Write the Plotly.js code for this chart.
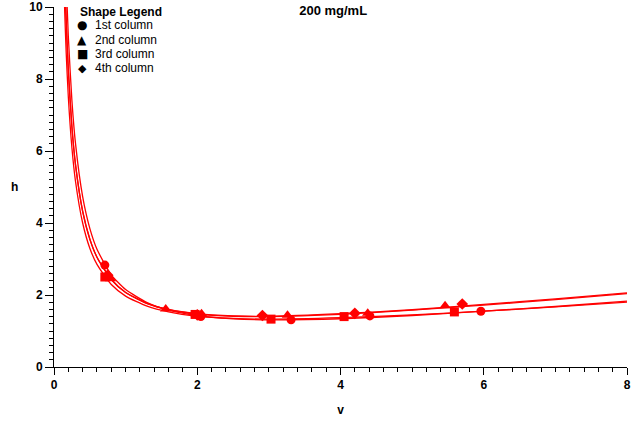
<!DOCTYPE html>
<html>
<head>
<meta charset="utf-8">
<script src="https://cdn.plot.ly/plotly-3.0.1.min.js"></script>
<style>
  html, body { margin: 0; padding: 0; background: #fff; }
  #chart { width: 637px; height: 430px; }
</style>
</head>
<body>
<div id="chart"></div>
<script>
// Plate height h against reduced velocity v, 200 mg/mL, four columns.

// Measured points per column
const col1V = [0.71, 2.05, 3.31, 4.41, 5.96];
const col1H = [2.83, 1.40, 1.31, 1.42, 1.55];
const col2V = [0.79, 1.56, 2.06, 3.26, 4.38, 5.46];
const col2H = [2.45, 1.61, 1.48, 1.44, 1.49, 1.70];
const col3V = [0.71, 1.97, 3.03, 4.05, 5.59];
const col3H = [2.50, 1.46, 1.33, 1.40, 1.53];
const col4V = [0.75, 2.00, 2.91, 4.20, 5.70];
const col4H = [2.55, 1.45, 1.43, 1.49, 1.75];

// Fitted curves, sampled along v
const curveV = [0.13, 0.15, 0.17, 0.2, 0.25, 0.3, 0.4, 0.5, 0.6, 0.8, 1.0, 1.3, 1.6, 2.0, 2.5, 3, 4, 5, 6, 7, 8];
const fit1H = [14.0, 12.16, 10.76, 9.18, 7.40, 6.21, 4.73, 3.85, 3.27, 2.56, 2.15, 1.79, 1.58, 1.43, 1.34, 1.31, 1.34, 1.43, 1.55, 1.68, 1.83];
const fit2H = [12.46, 10.85, 9.61, 8.23, 6.66, 5.62, 4.32, 3.55, 3.05, 2.43, 2.07, 1.77, 1.60, 1.48, 1.42, 1.41, 1.48, 1.59, 1.74, 1.89, 2.06];
const fit3H = [11.30, 9.85, 8.74, 7.50, 6.09, 5.16, 4.00, 3.30, 2.85, 2.29, 1.97, 1.69, 1.53, 1.41, 1.35, 1.33, 1.37, 1.45, 1.55, 1.67, 1.80];
const fit4H = [12.51, 10.89, 9.65, 8.26, 6.68, 5.63, 4.33, 3.56, 3.05, 2.43, 2.07, 1.76, 1.59, 1.47, 1.41, 1.40, 1.46, 1.58, 1.72, 1.87, 2.04];

// Legend entries
const legendTitle = 'Shape Legend';
const legendLabels = ['1st column', '2nd column', '3rd column', '4th column'];
const legendGlyphs = ['\u25CF', '\u25B2', '\u25A0', '\u25C6'];

const RED = '#ff0000';
const FONT = 'Liberation Sans, Arial, Helvetica, sans-serif';

function curve(y) {
  return { x: curveV, y: y, mode: 'lines', type: 'scatter',
           line: { color: RED, width: 1.3, shape: 'spline', smoothing: 0.6 },
           hoverinfo: 'skip', showlegend: false };
}
function pts(x, y, symbol, size) {
  return { x: x, y: y, mode: 'markers', type: 'scatter',
           marker: { color: RED, symbol: symbol, size: size, line: { width: 0 } },
           showlegend: false };
}

const traces = [
  curve(fit1H), curve(fit2H), curve(fit3H), curve(fit4H),
  pts(col1V, col1H, 'circle', 9),
  pts(col2V, col2H, 'triangle-up', 10),
  pts(col3V, col3H, 'square', 9),
  pts(col4V, col4H, 'diamond', 9)
];

// Plot area in pixels: x 54..627, y 7..367
const L = 54, R = 627, T = 7, B = 367;
const px = (x) => (x - L) / (R - L);
const py = (y) => (B - y) / (B - T);

const annotations = [
  { text: '<b>' + legendTitle + '</b>', xref: 'paper', yref: 'paper',
    x: px(78), y: py(12), xanchor: 'left', yanchor: 'middle', showarrow: false,
    font: { family: FONT, size: 12, color: '#000' } },
  { text: '<b>h</b>', xref: 'paper', yref: 'paper',
    x: px(14), y: py(187), xanchor: 'center', yanchor: 'middle', showarrow: false,
    font: { family: FONT, size: 12, color: '#000' } }
];
const rowsY = [25, 39.5, 54, 68.5];
legendLabels.forEach((lab, i) => {
  annotations.push({ text: legendGlyphs[i], xref: 'paper', yref: 'paper',
    x: px(82), y: py(rowsY[i]), xanchor: 'center', yanchor: 'middle', showarrow: false,
    font: { family: 'DejaVu Sans, sans-serif', size: i === 3 ? 11 : 12, color: '#000' } });
  annotations.push({ text: lab, xref: 'paper', yref: 'paper',
    x: px(93), y: py(rowsY[i]), xanchor: 'left', yanchor: 'middle', showarrow: false,
    font: { family: FONT, size: 12, color: '#000' } });
});

const axisCommon = {
  showline: true, linecolor: '#000', linewidth: 1, mirror: false,
  showgrid: false, zeroline: false, ticks: 'outside', tickwidth: 1,
  tickcolor: '#000', tickfont: { family: FONT, size: 12, color: '#000', weight: 'bold' }
};

const layout = {
  width: 637, height: 430,
  margin: { l: L, r: 637 - R, t: T, b: 430 - B },
  paper_bgcolor: '#fff', plot_bgcolor: '#fff',
  showlegend: false,
  title: { text: '<b>200 mg/mL</b>', x: 0.523, xref: 'container', xanchor: 'center',
           y: 1 - 10 / 430, yref: 'container', yanchor: 'middle',
           font: { family: FONT, size: 13, color: '#000' } },
  xaxis: Object.assign({}, axisCommon, {
    range: [0, 8], dtick: 2, tick0: 0, ticklen: 7,
    minor: { dtick: 0.2, tick0: 0, ticklen: 4, ticks: 'outside', tickcolor: '#000', showgrid: false },
    title: { text: '<b>v</b>', standoff: 14, font: { family: FONT, size: 12, color: '#000' } }
  }),
  yaxis: Object.assign({}, axisCommon, {
    range: [0, 10], dtick: 2, tick0: 0, ticklen: 8,
    minor: { dtick: 0.2, tick0: 0, ticklen: 4, ticks: 'outside', tickcolor: '#000', showgrid: false }
  }),
  annotations: annotations
};

Plotly.newPlot('chart', traces, layout, { displayModeBar: false, staticPlot: true });
</script>
</body>
</html>
